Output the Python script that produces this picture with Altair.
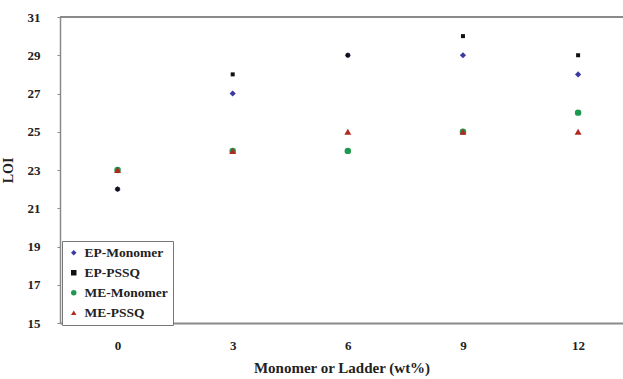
import altair as alt
import pandas as pd

loadings = [0, 3, 6, 9, 12]
series_names = ["EP-Monomer", "EP-PSSQ", "ME-Monomer", "ME-PSSQ"]
ep_monomer = [22, 27, 29, 29, 28]
ep_pssq = [22, 28, 29, 30, 29]
me_monomer = [23, 24, 24, 25, 26]
me_pssq = [23, 24, 25, 25, 25]
y_ticks = [15, 17, 19, 21, 23, 25, 27, 29, 31]

marker_sizes = {"EP-Monomer": 38, "EP-PSSQ": 16, "ME-Monomer": 42, "ME-PSSQ": 48}

values = [ep_monomer, ep_pssq, me_monomer, me_pssq]
rows = []
for i, (name, vals) in enumerate(zip(series_names, values)):
    for x, v in zip(loadings, vals):
        rows.append({"load": x, "LOI": v, "series": name, "order": i,
                     "msize": marker_sizes[name]})
df = pd.DataFrame(rows)

font = "Liberation Serif"
txt = "#222222"

points = alt.Chart(df).mark_point(filled=True, opacity=1, strokeWidth=0).encode(
    x=alt.X("load:Q",
            scale=alt.Scale(domain=[-1.5, 13.17], nice=False, zero=False),
            axis=alt.Axis(values=loadings, title="Monomer or Ladder (wt%)",
                          grid=False, ticks=False, labelPadding=16,
                          domainColor="#8a8a8a", domainWidth=2,
                          labelFont=font, labelFontSize=13, labelFontWeight="bold",
                          labelColor=txt,
                          titleFont=font, titleFontSize=15, titleFontWeight="bold",
                          titleColor=txt, titlePadding=8)),
    y=alt.Y("LOI:Q",
            scale=alt.Scale(domain=[15, 31], nice=False, zero=False),
            axis=alt.Axis(values=y_ticks, title="LOI", grid=False,
                          tickSize=3, tickColor="#8a8a8a", labelPadding=17,
                          domainColor="#8a8a8a", domainWidth=1.5,
                          labelFont=font, labelFontSize=13, labelFontWeight="bold",
                          labelColor=txt,
                          titleFont=font, titleFontSize=14, titleFontWeight="bold",
                          titleColor=txt, titlePadding=12)),
    color=alt.Color("series:N",
                    scale=alt.Scale(domain=series_names,
                                    range=["#3a3aa0", "#111111", "#1e9a50", "#b02a22"]),
                    legend=alt.Legend(title=None, orient="none", legendX=2, legendY=224,
                                      labelFont=font, labelFontSize=13.5,
                                      labelFontWeight="bold", labelColor=txt,
                                      strokeColor="#777777", fillColor="white",
                                      padding=5, rowPadding=5, symbolOffset=0,
                                      symbolSize=30, labelOffset=4, labelLimit=0)),
    shape=alt.Shape("series:N",
                    scale=alt.Scale(domain=series_names,
                                    range=["diamond", "square", "circle", "triangle-up"])),
    size=alt.Size("msize:Q", scale=None),
    order=alt.Order("order:Q"),
)

top_line = alt.Chart(df).mark_rule(color="#8a8a8a", strokeWidth=2).encode(
    x=alt.value(0), x2=alt.value(563), y=alt.value(0)
)

chart = alt.layer(points, top_line).properties(
    width=563, height=306,
    autosize=alt.AutoSizeParams(type="none"),
    padding={"left": 60, "top": 17, "right": 0, "bottom": 56},
).configure_view(stroke=None).configure(background="white")

chart.save("out.html", embed_options={"renderer": "svg", "actions": False})
